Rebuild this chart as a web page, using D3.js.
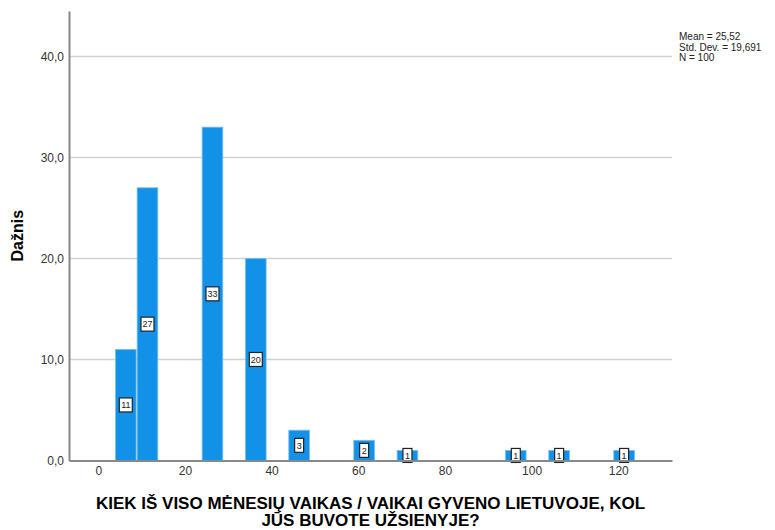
<html lang="en">
<head>
<meta charset="utf-8">
<title>Histogram</title>
<style>
  body { margin: 0; background: #fff; }
  text { font-family: "Liberation Sans", Arial, sans-serif; }
  .tick text { fill: #333; font-size: 12px; }
</style>
<script src="https://d3js.org/d3.v7.min.js"></script>
</head>
<body>
<svg id="chart" width="775" height="530"></svg>
<script>
// histogram bins (start of bin, in months) and frequencies
var binStarts = [3.85, 8.85, 23.85, 33.85, 43.85, 58.85, 68.85, 93.85, 103.85, 118.85];
var counts    = [11, 27, 33, 20, 3, 2, 1, 1, 1, 1];
var binWidth  = 5;

var xTicks = [0, 20, 40, 60, 80, 100, 120];
var yTicks = [0, 10, 20, 30, 40];
var statsLines = ["Mean = 25,52", "Std. Dev. = 19,691", "N = 100"];
var yTitle = "Dažnis";
var xTitle = ["KIEK IŠ VISO MĖNESIŲ VAIKAS / VAIKAI GYVENO LIETUVOJE, KOL", "JŪS BUVOTE UŽSIENYJE?"];

var plot = {left: 69, right: 672, top: 11, bottom: 460.5};

var svg = d3.select("#chart");

var x = d3.scaleLinear().domain([-6.76, 132.4]).range([plot.left, plot.right]);
var y = d3.scaleLinear().domain([0, 44.5]).range([plot.bottom, plot.top]);

// gridlines
svg.append("g")
  .selectAll("line")
  .data(yTicks.filter(function(d) { return d > 0; }))
  .enter().append("line")
    .attr("x1", plot.left).attr("x2", plot.right)
    .attr("y1", function(d) { return y(d); })
    .attr("y2", function(d) { return y(d); })
    .attr("stroke", "#d2d2d2")
    .attr("stroke-width", 1.5);

// bars
var bars = binStarts.map(function(s, i) { return {x0: s, x1: s + binWidth, n: counts[i]}; });

svg.append("g")
  .selectAll("rect")
  .data(bars)
  .enter().append("rect")
    .attr("x", function(d) { return x(d.x0) + 0.5; })
    .attr("width", function(d) { return x(d.x1) - x(d.x0) - 1; })
    .attr("y", function(d) { return y(d.n); })
    .attr("height", function(d) { return y(0) - y(d.n); })
    .attr("fill", "#1192e8")
    .attr("stroke", "#7cbdf0")
    .attr("stroke-width", 0.8);

// value labels in boxes
var lab = svg.append("g").selectAll("g")
  .data(bars)
  .enter().append("g")
    .attr("transform", function(d) {
      return "translate(" + x((d.x0 + d.x1) / 2) + "," + y(d.n / 2) + ")";
    });

lab.append("rect")
  .attr("x", function(d) { return String(d.n).length > 1 ? -6.5 : -4.5; })
  .attr("width", function(d) { return String(d.n).length > 1 ? 13 : 9; })
  .attr("y", -7)
  .attr("height", 14)
  .attr("fill", "#fff")
  .attr("stroke", "#222")
  .attr("stroke-width", 1.2);

lab.append("text")
  .attr("text-anchor", "middle")
  .attr("dy", "0.35em")
  .style("font-size", "9px")
  .attr("fill", "#222")
  .text(function(d) { return d.n; });

// axes
var xAxis = svg.append("g")
  .attr("transform", "translate(0," + plot.bottom + ")")
  .call(d3.axisBottom(x).tickValues(xTicks).tickSize(0).tickPadding(6));
xAxis.select(".domain").attr("stroke", "#888").attr("stroke-width", 2);

var yAxis = svg.append("g")
  .attr("transform", "translate(" + plot.left + ",0)")
  .call(d3.axisLeft(y).tickValues(yTicks).tickSize(0).tickPadding(5)
    .tickFormat(function(d) { return d3.format(".1f")(d).replace(".", ","); }));
yAxis.select(".domain").attr("stroke", "#888").attr("stroke-width", 2);

// axis titles
svg.append("text")
  .attr("transform", "translate(23," + ((plot.top + plot.bottom) / 2) + ") rotate(-90)")
  .attr("text-anchor", "middle")
  .style("font-size", "16px")
  .style("font-weight", "bold")
  .text(yTitle);

svg.append("g").selectAll("text")
  .data(xTitle)
  .enter().append("text")
    .attr("x", (plot.left + plot.right) / 2)
    .attr("y", function(d, i) { return 509 + i * 17; })
    .attr("text-anchor", "middle")
    .style("font-size", "17px")
    .style("font-weight", "bold")
    .text(function(d) { return d; });

// stats box text
svg.append("g").selectAll("text")
  .data(statsLines)
  .enter().append("text")
    .attr("x", 679)
    .attr("y", function(d, i) { return 40 + i * 10.5; })
    .style("font-size", "10px")
    .attr("fill", "#222")
    .text(function(d) { return d; });
</script>
</body>
</html>
